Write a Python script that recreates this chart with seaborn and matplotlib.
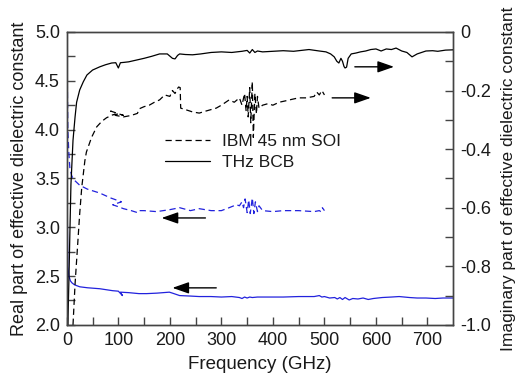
import numpy as np
import seaborn as sns
import matplotlib.pyplot as plt
import pandas as pd

# IBM 45 nm SOI, real part (blue dashed, left axis)
ibm_re_f = [0.5, 1, 2, 4, 6, 10, 15, 25, 40, 64, 85, 106, 89, 100, 110, 125, 137,
            140, 150, 174, 200, 219, 240, 257, 280, 300, 315, 329, 335, 340, 343, 346,
            350, 353, 356, 360, 363, 366, 370, 373, 380, 400, 420, 450, 480, 490, 493,
            496, 500]
ibm_re_v = [5.0, 4.5, 4.0, 3.75, 3.6, 3.52, 3.48, 3.43, 3.39, 3.35, 3.3, 3.26, 3.23,
            3.21, 3.19, 3.17, 3.15, 3.17, 3.17, 3.16, 3.18, 3.20, 3.17, 3.19, 3.17,
            3.17, 3.2, 3.23, 3.22, 3.26, 3.2, 3.29, 3.15, 3.28, 3.14, 3.30, 3.14, 3.26,
            3.16, 3.22, 3.17, 3.16, 3.17, 3.17, 3.16, 3.17, 3.16, 3.2, 3.17]

# THz BCB, real part (blue solid, left axis)
bcb_re_f = [0.5, 1, 2, 4, 7, 10, 15, 25, 40, 64, 89, 100, 108, 104, 120, 140, 155,
            175, 199, 205, 219, 240, 257, 280, 300, 320, 335, 340, 345, 350, 355, 360,
            370, 380, 400, 420, 450, 480, 490, 495, 500, 510, 520, 525, 530, 535, 540,
            548, 555, 565, 575, 585, 595, 612, 630, 645, 665, 680, 697, 715, 730, 750]
bcb_re_v = [3.7, 3.1, 2.6, 2.5, 2.45, 2.43, 2.41, 2.39, 2.38, 2.37, 2.35, 2.345, 2.30,
            2.335, 2.33, 2.32, 2.32, 2.325, 2.335, 2.325, 2.30, 2.295, 2.29, 2.29,
            2.285, 2.29, 2.28, 2.27, 2.285, 2.275, 2.285, 2.28, 2.285, 2.285, 2.285,
            2.285, 2.29, 2.29, 2.30, 2.285, 2.29, 2.275, 2.28, 2.265, 2.28, 2.26, 2.28,
            2.255, 2.27, 2.265, 2.275, 2.26, 2.27, 2.28, 2.285, 2.29, 2.28, 2.275,
            2.275, 2.27, 2.275, 2.275]

# IBM 45 nm SOI, imaginary part (black dashed, right axis)
ibm_im_f = [12, 16, 21, 25, 29, 35, 38, 48, 58, 68, 77, 89, 100, 110, 85, 95, 110,
            125, 137, 141, 150, 160, 170, 180, 190, 200, 205, 210, 214, 217, 220, 221,
            230, 244, 257, 270, 290, 300, 315, 325, 335, 340, 345, 348, 350, 352, 355,
            357, 360, 362, 365, 368, 370, 373, 380, 390, 400, 412, 425, 437, 450, 465,
            480, 485, 490, 495, 500]
ibm_im_v = [-1.0, -0.86, -0.727, -0.62, -0.53, -0.44, -0.41, -0.36, -0.324, -0.305,
            -0.293, -0.283, -0.28, -0.285, -0.27, -0.285, -0.29, -0.285, -0.278,
            -0.262, -0.255, -0.25, -0.24, -0.232, -0.215, -0.22, -0.2, -0.21, -0.195,
            -0.188, -0.19, -0.26, -0.265, -0.273, -0.277, -0.27, -0.26, -0.25, -0.232,
            -0.24, -0.225, -0.25, -0.21, -0.27, -0.22, -0.29, -0.19, -0.31, -0.17,
            -0.36, -0.21, -0.28, -0.22, -0.26, -0.25, -0.245, -0.25, -0.24, -0.235,
            -0.23, -0.225, -0.225, -0.22, -0.205, -0.215, -0.2, -0.215]

# THz BCB, imaginary part (black solid, right axis)
bcb_im_f = [2, 4, 6, 8, 12, 16, 19, 25, 32, 39, 50, 64, 75, 87, 95, 100, 104, 110,
            120, 135, 150, 165, 180, 195, 205, 210, 215, 219, 230, 244, 260, 280, 300,
            320, 340, 350, 355, 360, 365, 370, 380, 400, 420, 440, 460, 470, 490, 503,
            512, 519, 524, 528, 532, 535, 538, 540, 543, 546, 552, 561, 570, 580, 590,
            600, 610, 620, 630, 639, 650, 660, 670, 680, 697, 710, 720, 735, 750]
bcb_im_v = [-1.0, -0.85, -0.68, -0.52, -0.37, -0.29, -0.24, -0.198, -0.17, -0.147,
            -0.13, -0.119, -0.112, -0.106, -0.105, -0.123, -0.105, -0.104, -0.102,
            -0.096, -0.09, -0.083, -0.075, -0.075, -0.09, -0.092, -0.08, -0.075,
            -0.077, -0.078, -0.075, -0.07, -0.068, -0.07, -0.066, -0.063, -0.072,
            -0.06, -0.07, -0.065, -0.068, -0.066, -0.064, -0.066, -0.062, -0.06,
            -0.065, -0.068, -0.075, -0.085, -0.1, -0.106, -0.09, -0.1, -0.118, -0.123,
            -0.12, -0.09, -0.075, -0.072, -0.068, -0.065, -0.06, -0.058, -0.065,
            -0.058, -0.06, -0.055, -0.065, -0.07, -0.085, -0.075, -0.065, -0.064,
            -0.066, -0.062, -0.061]

left_ticks = [2.0, 2.5, 3.0, 3.5, 4.0, 4.5, 5.0]
right_ticks = [0, -0.2, -0.4, -0.6, -0.8, -1.0]
right_labels = ["0", "-0.2", "-0.4", "-0.6", "-0.8", "-1.0"]
x_ticks = [0, 100, 200, 300, 400, 500, 600, 700]

sns.set_style("ticks")
plt.rcParams['font.family'] = ['Liberation Sans', 'DejaVu Sans']
plt.rcParams['xtick.direction'] = 'in'
plt.rcParams['ytick.direction'] = 'in'

blue = "#2222dd"
spine_col = "#444444"
txt = "#1a1a1a"

fig = plt.figure(figsize=(5.18, 3.76), dpi=100)
ax = fig.add_axes([0.129, 0.136, 0.746, 0.779])
ax2 = ax.twinx()

sns.lineplot(x=ibm_re_f, y=ibm_re_v, ax=ax, sort=False, estimator=None,
             color=blue, lw=0.9, linestyle=(0, (5, 3)))
sns.lineplot(x=bcb_re_f, y=bcb_re_v, ax=ax, sort=False, estimator=None,
             color=blue, lw=0.9)
sns.lineplot(x=ibm_im_f, y=ibm_im_v, ax=ax2, sort=False, estimator=None,
             color="black", lw=0.9, linestyle=(0, (5, 3)), label="IBM 45 nm SOI")
sns.lineplot(x=bcb_im_f, y=bcb_im_v, ax=ax2, sort=False, estimator=None,
             color="black", lw=0.9, label="THz BCB")

ax.set_xlim(0, 750)
ax.set_ylim(2.0, 5.0)
ax2.set_ylim(-1.0, 0)
ax.set_xticks(x_ticks)
ax.set_xticks(np.arange(50, 750, 100), minor=True)
ax.set_yticks(left_ticks)
ax.set_yticklabels([f"{t:.1f}" for t in left_ticks])
ax.set_yticks(np.arange(2.25, 5.0, 0.5), minor=True)
ax2.set_yticks(right_ticks)
ax2.set_yticklabels(right_labels)
ax2.set_yticks([-0.9, -0.7, -0.5, -0.3, -0.1], minor=True)

for a in (ax, ax2):
    for s in a.spines.values():
        s.set_color(spine_col)
        s.set_linewidth(1.0)
    a.tick_params(which='both', colors=spine_col, labelcolor=txt, labelsize=13,
                  length=6, width=1.0, pad=5)
ax.tick_params(axis='y', right=False)
ax.tick_params(axis='x', top=False)

ax.set_xlabel("Frequency (GHz)", fontsize=13.5, color=txt, labelpad=5)
ax.set_ylabel("Real part of effective dielectric constant", fontsize=13,
              color=txt, labelpad=5)
ax2.set_ylabel("Imaginary part of effective dielectric constant", fontsize=12.5,
               color=txt, labelpad=7)

arrow = dict(arrowstyle="-|>,head_length=1.0,head_width=0.35", color="black", lw=1.0,
             shrinkA=0, shrinkB=0)
ax2.annotate("", xy=(635, -0.119), xytext=(559, -0.119), arrowprops=arrow)
ax2.annotate("", xy=(590, -0.225), xytext=(515, -0.225), arrowprops=arrow)
ax.annotate("", xy=(184, 3.095), xytext=(269, 3.095), arrowprops=arrow)
ax.annotate("", xy=(205, 2.379), xytext=(290, 2.379), arrowprops=arrow)

leg = ax2.legend(loc="upper left", bbox_to_anchor=(0.235, 0.675), frameon=False,
                 fontsize=12.5, handlelength=2.6, handletextpad=0.7, labelspacing=0.3,
                 borderaxespad=0)
for t in leg.get_texts():
    t.set_color(txt)

fig.savefig("out.png", dpi=100)
